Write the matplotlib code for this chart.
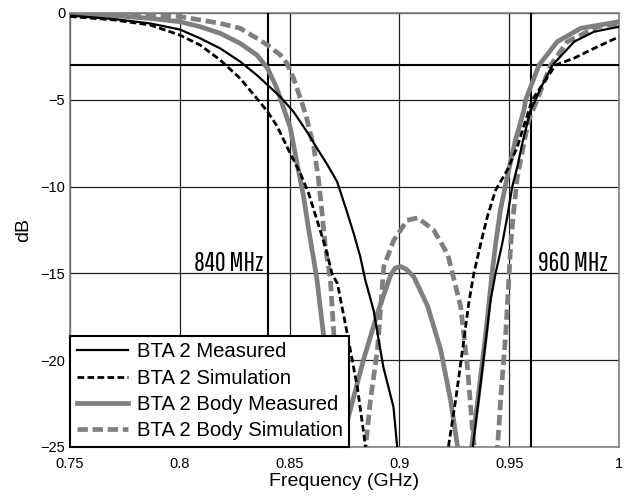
import matplotlib
matplotlib.use("Agg")
import matplotlib.pyplot as plt

BLACK, GREY = "#000000", "#7f7f7f"

# Return loss traces (frequency in GHz, level in dB)
meas_f = [0.75, 0.77, 0.7865, 0.80, 0.8093, 0.8184, 0.8275, 0.8351, 0.84,
          0.8458, 0.8518, 0.8579, 0.8630, 0.867, 0.8716, 0.8754, 0.8792,
          0.8822, 0.8845, 0.8882, 0.8927, 0.8973, 0.899, 0.902,
          0.930, 0.9334, 0.9379, 0.9415, 0.9438, 0.9468, 0.9491, 0.9514,
          0.9537, 0.956, 0.9597, 0.962, 0.9643, 0.9697, 0.9796, 0.9886, 1.0]
meas_db = [-0.15, -0.35, -0.6, -0.95, -1.46, -2.04, -2.8, -3.58, -4.15,
           -4.83, -5.69, -6.84, -7.9, -8.7, -9.7, -11.17, -12.7,
           -14.05, -15.4, -17.1, -20.4, -22.7, -25.0, -28.0,
           -28.0, -25.0, -20.4, -16.55, -15.0, -13.3, -11.75, -10.0,
           -8.86, -7.5, -5.6, -5.0, -4.34, -3.0, -1.65, -1.08, -0.79]

sim_f = [0.75, 0.77, 0.7865, 0.80, 0.8093, 0.8184, 0.8275, 0.8351, 0.84,
         0.8442, 0.8503, 0.8549, 0.8587, 0.8625, 0.8663, 0.8693, 0.8718,
         0.8763, 0.8809, 0.8846, 0.887,
         0.920, 0.9223, 0.9256, 0.9293, 0.9316, 0.9339, 0.937, 0.94,
         0.9438, 0.9491, 0.9537, 0.9575, 0.9605, 0.9711, 0.9796, 0.9886, 1.0]
sim_db = [-0.2, -0.4, -0.69, -1.27, -1.85, -2.71, -3.77, -4.92, -5.69,
          -6.5, -8.09, -9.24, -10.4, -11.94, -13.48, -15.0, -15.6,
          -18.5, -21.6, -25.0, -28.0,
          -28.0, -25.0, -22.3, -18.9, -16.7, -15.0, -13.3, -11.75,
          -10.2, -9.05, -7.71, -6.17, -5.0, -3.0, -2.6, -2.04, -1.37]

body_meas_f = [0.75, 0.77, 0.7865, 0.80, 0.8093, 0.8184, 0.8275, 0.8351, 0.84,
               0.8442, 0.8473, 0.8503, 0.8534, 0.8564, 0.8587, 0.861, 0.8625,
               0.8654, 0.8685, 0.8705, 0.8725, 0.874, 0.8763, 0.8836, 0.890,
               0.896, 0.898, 0.9005, 0.903, 0.9066, 0.9129, 0.9188, 0.9233,
               0.9265, 0.9295, 0.9329, 0.9357, 0.9393, 0.9422, 0.9438, 0.946,
               0.9491, 0.9529, 0.9567, 0.9575, 0.9636, 0.9719, 0.9826, 1.0]
body_meas_db = [-0.05, -0.15, -0.31, -0.5, -0.79, -1.17, -1.75, -2.42, -3.19,
                -4.34, -5.5, -6.6, -8.67, -10.59, -12.5, -14.2, -15.4,
                -18.5, -23.5, -27.0, -27.0, -25.0, -23.5, -20.0, -17.3,
                -15.1, -14.7, -14.6, -14.75, -15.2, -16.9, -19.4, -22.3,
                -25.0, -28.5, -25.0, -22.3, -18.5, -15.0, -13.3, -11.36,
                -9.44, -7.3, -5.6, -5.0, -3.0, -1.65, -0.88, -0.5]

body_sim_f = [0.75, 0.7865, 0.80, 0.8093, 0.8184, 0.8275, 0.8351, 0.84, 0.8458,
              0.8488, 0.8518, 0.8549, 0.8572, 0.861, 0.8632, 0.8648, 0.8663,
              0.8686, 0.8709, 0.873, 0.875, 0.878, 0.882, 0.8846, 0.8868,
              0.890, 0.8929, 0.8974, 0.9035, 0.9083, 0.9156, 0.922, 0.9279,
              0.931, 0.9334, 0.935, 0.939, 0.943, 0.9447, 0.9461, 0.9484,
              0.9499, 0.9507, 0.9521, 0.9537, 0.9567, 0.9589, 0.9628, 0.9689,
              0.9765, 0.9902, 1.0]
body_sim_db = [-0.02, -0.12, -0.21, -0.4, -0.6, -0.88, -1.46, -1.85, -2.42,
               -2.9, -3.77, -4.92, -5.78, -7.71, -9.63, -11.55, -13.48,
               -15.4, -20.0, -23.0, -26.0, -29.0, -28.0, -25.0, -22.3,
               -19.4, -14.6, -13.1, -11.94, -11.8, -12.5, -13.9, -16.9,
               -20.4, -24.2, -26.0, -29.0, -26.5, -25.0, -22.3, -18.5,
               -15.2, -13.3, -11.36, -9.44, -7.5, -6.17, -4.98, -3.0,
               -1.65, -0.79, -0.6]

x_ticks = [0.75, 0.8, 0.85, 0.9, 0.95, 1.0]
x_labels = ["0.75", "0.8", "0.85", "0.9", "0.95", "1"]
y_ticks = [0, -5, -10, -15, -20, -25]
band_edges = [0.84, 0.96]
band_labels = ["840 MHz", "960 MHz"]
cutoff_db = -3

plt.rcParams["font.family"] = ["Liberation Sans", "DejaVu Sans"]

fig = plt.figure(figsize=(6.28, 4.99), dpi=100)
ax = fig.add_axes([70 / 628, 1 - 447 / 499, 549 / 628, 434 / 499])

ax.plot(meas_f, meas_db, color=BLACK, lw=1.6, zorder=6,
        label="BTA 2 Measured")
ax.plot(sim_f, sim_db, color=BLACK, lw=2.0, dashes=(2.4, 1.2), zorder=7,
        label="BTA 2 Simulation")
ax.plot(body_meas_f, body_meas_db, color=GREY, lw=3.4, zorder=4,
        label="BTA 2 Body Measured")
ax.plot(body_sim_f, body_sim_db, color=GREY, lw=3.4, dashes=(2.2, 1.0),
        zorder=5, label="BTA 2 Body Simulation")

for f in band_edges:
    ax.axvline(f, color=BLACK, lw=1.5, zorder=3)
ax.axhline(cutoff_db, color=BLACK, lw=1.5, zorder=3)

narrow = ["Pathway Gothic One", "Antonio", "DejaVu Sans"]
ax.text(band_edges[0] - 0.002, -14.85, band_labels[0], ha="right",
        va="baseline", fontsize=19, family=narrow, zorder=3)
ax.text(band_edges[1] + 0.003, -14.85, band_labels[1], ha="left",
        va="baseline", fontsize=19, family=narrow, zorder=3)

ax.set_xlim(0.75, 1.0)
ax.set_ylim(-25, 0)
ax.set_xticks(x_ticks)
ax.set_xticklabels(x_labels)
ax.set_yticks(y_ticks)
ax.tick_params(axis="both", length=0, labelsize=10.5)
ax.tick_params(axis="x", pad=7)
ax.tick_params(axis="y", pad=3.5)
ax.grid(True, color="#222222", lw=0.9, zorder=1)
ax.set_axisbelow(True)
for sp in ax.spines.values():
    sp.set_color("#808080")
    sp.set_linewidth(1.2)

ax.set_xlabel("Frequency (GHz)", fontsize=14, labelpad=2)
ax.set_ylabel("dB", fontsize=14, labelpad=6)

leg = ax.legend(loc="lower left", borderaxespad=0, fontsize=14.6,
                fancybox=False, framealpha=1, edgecolor=BLACK,
                handlelength=2.55, labelspacing=0.36, handletextpad=0.4,
                borderpad=0.33)
leg.get_frame().set_linewidth(1.5)
leg.set_zorder(10)

fig.savefig("out.png", dpi=100)
